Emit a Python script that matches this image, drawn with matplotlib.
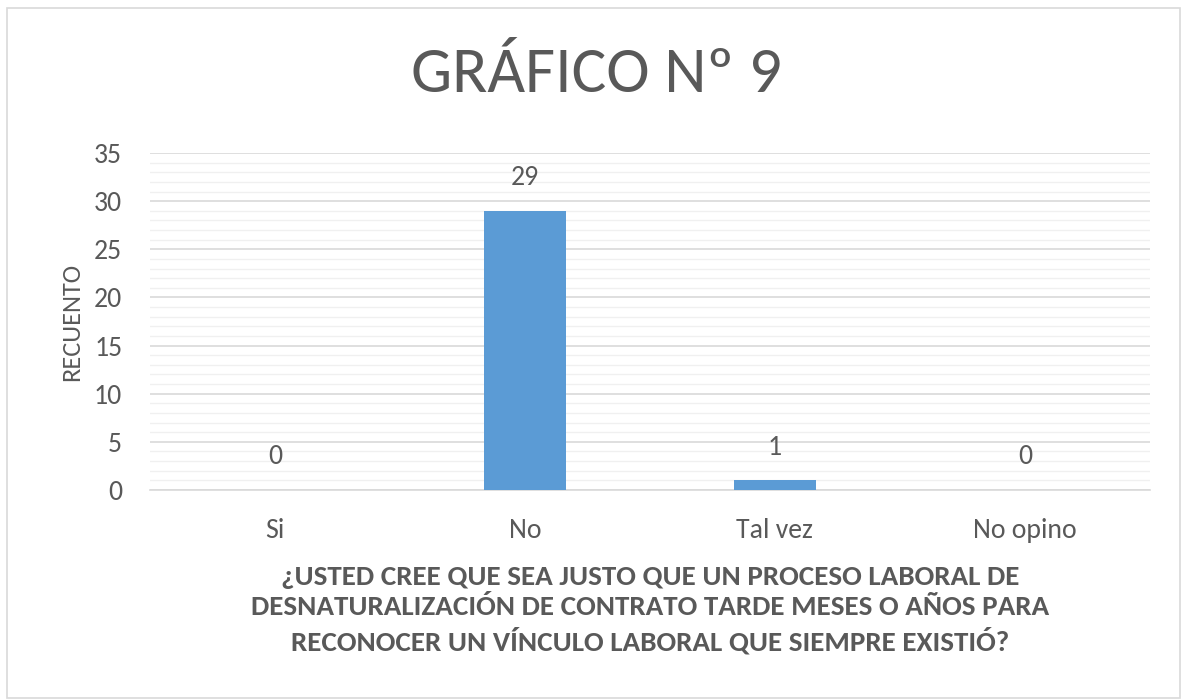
import matplotlib
matplotlib.use("Agg")
import matplotlib.pyplot as plt
from matplotlib.patches import Rectangle
from matplotlib.ticker import MultipleLocator

categories = ["Si", "No", "Tal vez", "No opino"]
values = [0, 29, 1, 0]
title = "GRÁFICO Nº 9"
xlabel = "¿USTED CREE QUE SEA JUSTO QUE UN PROCESO LABORAL DE\nDESNATURALIZACIÓN DE CONTRATO TARDE MESES O AÑOS PARA\nRECONOCER UN VÍNCULO LABORAL QUE SIEMPRE EXISTIÓ?"
ylabel = "RECUENTO"

txt = "#595959"
plt.rcParams["font.family"] = ["Carlito", "DejaVu Sans"]

fig = plt.figure(figsize=(11.82, 7.0), dpi=100)
fig.patch.set_facecolor("white")
fig.patches.append(Rectangle((7/1182, 0.003), 1 - 9/1182, 1 - 10/700, transform=fig.transFigure,
                             fill=False, edgecolor="#D9D9D9", linewidth=1.2))

ax = fig.add_axes([150/1182, 1 - 490/700, 1000/1182, 337/700])
x = range(len(categories))
ax.bar(x, values, width=0.33, color="#5B9BD5", zorder=3)
ax.set_xlim(-0.5, 3.5)
ax.set_ylim(0, 35)
ax.yaxis.set_major_locator(MultipleLocator(5))
ax.yaxis.set_minor_locator(MultipleLocator(1))
ax.grid(which="major", axis="y", color="#D9D9D9", linewidth=1.2, zorder=0)
ax.grid(which="minor", axis="y", color="#F0F0F0", linewidth=1.0, zorder=0)
for s in ["top", "right", "left"]:
    ax.spines[s].set_visible(False)
ax.spines["bottom"].set_color("#D9D9D9")
ax.spines["bottom"].set_linewidth(1.2)
ax.tick_params(axis="both", which="both", length=0)
ax.tick_params(axis="y", labelsize=20, colors=txt, pad=20)
ax.tick_params(axis="x", labelsize=20, colors=txt, pad=20)
ax.set_xticks(list(x))
ax.set_xticklabels(categories)

for xi, v in zip(x, values):
    ax.annotate(str(v), (xi, v), xytext=(0, 15), textcoords="offset points",
                ha="center", va="bottom", fontsize=20, color=txt)

ax.set_ylabel(ylabel, fontsize=19, color=txt, labelpad=8)
ax.set_xlabel(xlabel, fontsize=21, color=txt, fontweight="bold",
              labelpad=16, linespacing=1.32)

fig.text(596/1182, 1 - 74/700, title, ha="center", va="center", fontsize=47,
         color=txt)

fig.savefig("out.png", dpi=100)
